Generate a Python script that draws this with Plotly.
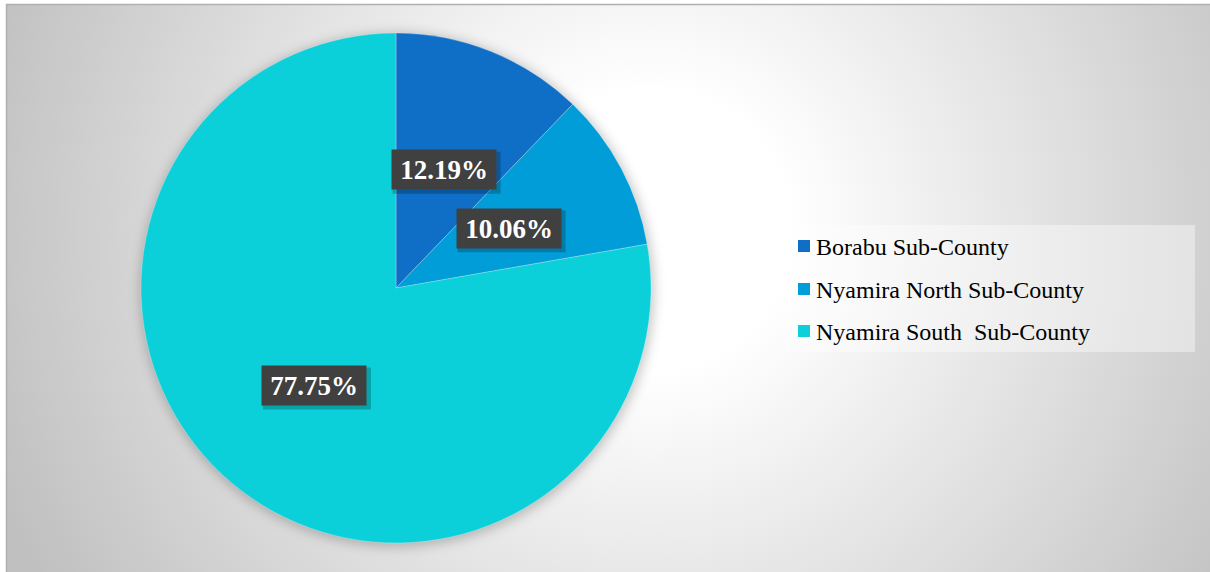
import base64
import math
import plotly.graph_objects as go

# ---- data ----
categories = ["Borabu Sub-County", "Nyamira North Sub-County", "Nyamira South  Sub-County"]
shares = [12.19, 10.06, 77.75]
colors = ["#0F6FC6", "#009DD9", "#0BD0D9"]
label_texts = ["12.19%", "10.06%", "77.75%"]

W, H = 1210, 572
# pie geometry (pixels)
CX, CY, R = 396, 288, 255
SERIF = "Times New Roman, Liberation Serif, serif"

# ---- background: radial gradient chart area with pie halo ----
svg = f'''<svg xmlns="http://www.w3.org/2000/svg" width="{W}" height="{H}" viewBox="0 0 {W} {H}">
<defs>
<radialGradient id="g" gradientUnits="userSpaceOnUse" cx="650" cy="230" r="700">
<stop offset="0" stop-color="#ffffff"/>
<stop offset="0.2" stop-color="#ffffff"/>
<stop offset="1" stop-color="#c0c0c0"/>
</radialGradient>
<filter id="b" x="-20%" y="-20%" width="140%" height="140%"><feGaussianBlur stdDeviation="6"/></filter>
</defs>
<rect x="0" y="0" width="{W}" height="{H}" fill="#ffffff"/>
<rect x="6" y="4" width="{W}" height="{H}" fill="url(#g)"/>
<line x1="6" y1="4.5" x2="{W}" y2="4.5" stroke="#b0b0b0" stroke-width="1.5"/>
<line x1="6.5" y1="4" x2="6.5" y2="{H}" stroke="#b0b0b0" stroke-width="1.5"/>
<circle cx="{CX+1}" cy="{CY+2}" r="{R+2}" fill="#000000" fill-opacity="0.22" filter="url(#b)"/>
</svg>'''
bg_uri = "data:image/svg+xml;base64," + base64.b64encode(svg.encode()).decode()

fig = go.Figure()
fig.add_trace(go.Pie(
    labels=categories,
    values=shares,
    marker=dict(colors=colors, line=dict(color="rgba(255,255,255,0.5)", width=0.5)),
    sort=False,
    direction="clockwise",
    rotation=0,
    textinfo="none",
    hoverinfo="label+percent",
    showlegend=False,
    domain=dict(x=[(CX - R) / W, (CX + R) / W], y=[1 - (CY + R) / H, 1 - (CY - R) / H]),
))

annotations = []
shapes = []

# data labels at half radius along mid-angle of each slice
total = sum(shares)
cum = 0.0
for v, t in zip(shares, label_texts):
    mid = (cum + v / 2) / total * 2 * math.pi
    cum += v
    px = CX + 0.5 * R * math.sin(mid)
    py = CY - 0.5 * R * math.cos(mid)
    xp, yp = px / W, 1 - py / H
    # soft shadow behind the label box
    shapes.append(dict(type="rect", xref="paper", yref="paper",
                       xsizemode="pixel", ysizemode="pixel", xanchor=xp, yanchor=yp,
                       x0=-51, x1=57, y0=-24, y1=18,
                       fillcolor="rgba(0,0,0,0.22)", line=dict(width=0)))
    annotations.append(dict(x=xp, y=yp, xref="paper", yref="paper", text=f"<b>{t}</b>", showarrow=False,
                            xanchor="center", yanchor="middle",
                            font=dict(family=SERIF, size=27, color="#ffffff"),
                            bgcolor="#404040", width=104, height=39, borderpad=0))

# manual legend
shapes.append(dict(type="rect", xref="paper", yref="paper", layer="below",
                   x0=785 / W, x1=1195 / W, y0=1 - 352 / H, y1=1 - 225 / H,
                   fillcolor="rgba(255,255,255,0.4)", line=dict(width=0)))
ys = [246, 289, 331]
for name, c, yy in zip(categories, colors, ys):
    shapes.append(dict(type="rect", xref="paper", yref="paper",
                       x0=798 / W, x1=810 / W, y0=1 - (yy + 6) / H, y1=1 - (yy - 6) / H,
                       fillcolor=c, line=dict(width=0)))
    annotations.append(dict(x=814 / W, y=1 - (yy + 1) / H, xref="paper", yref="paper",
                            xanchor="left", yanchor="middle", text=name.replace("  ", "&nbsp; "),
                            showarrow=False,
                            font=dict(family=SERIF, size=24, color="#000000")))

fig.update_layout(
    width=W, height=H,
    margin=dict(l=0, r=0, t=0, b=0),
    paper_bgcolor="#ffffff",
    images=[dict(source=bg_uri, xref="paper", yref="paper", x=0, y=1, sizex=1, sizey=1,
                 xanchor="left", yanchor="top", sizing="stretch", layer="below")],
    annotations=annotations,
    shapes=shapes,
    showlegend=False,
)

fig.write_html("out.html")
